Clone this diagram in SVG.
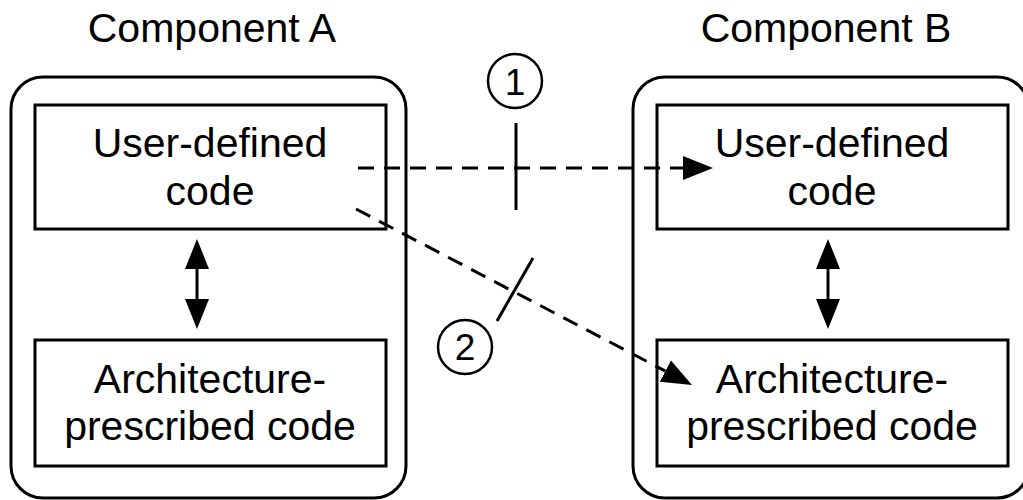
<svg xmlns="http://www.w3.org/2000/svg" width="1023" height="500" viewBox="0 0 1023 500">
  <style>
    .frame { fill: none; stroke: #000; stroke-width: 3; }
    .box { fill: #fff; stroke: #000; stroke-width: 3; }
    .label { font-family: "Liberation Sans", Arial, sans-serif; font-size: 41px; fill: #000; text-anchor: middle; }
    .num { font-family: "Liberation Sans", Arial, sans-serif; font-size: 37px; fill: #000; text-anchor: middle; }
    .dash { fill: none; stroke: #000; stroke-width: 3; stroke-dasharray: 16 10; }
    .solid { fill: none; stroke: #000; stroke-width: 3; }
    .circ { fill: #fff; stroke: #000; stroke-width: 2.5; }
  </style>
  <defs>
    <!-- filled arrowhead; reference point is the base, tip extends 30px beyond the line end -->
    <marker id="head" markerUnits="userSpaceOnUse" markerWidth="31" markerHeight="25" refX="0" refY="12" orient="auto-start-reverse">
      <path d="M0,0 L30,12 L0,24 Z" fill="#000"/>
    </marker>
  </defs>

  <!-- component titles -->
  <text class="label" x="212" y="42">Component A</text>
  <text class="label" x="826" y="42">Component B</text>

  <!-- component A -->
  <g id="componentA">
    <rect class="frame" x="11" y="77" width="395" height="421" rx="32" ry="32"/>
  </g>
  <g id="userCodeA">
    <rect class="box" x="35" y="105" width="351" height="124"/>
    <text class="label" x="210" y="157">User-defined</text>
    <text class="label" x="210" y="205">code</text>
  </g>
  <g id="archCodeA">
    <rect class="box" x="35" y="340" width="351" height="126"/>
    <text class="label" x="210" y="393">Architecture-</text>
    <text class="label" x="210" y="440">prescribed code</text>
  </g>

  <!-- component B -->
  <g id="componentB">
    <rect class="frame" x="633" y="77" width="396" height="421" rx="32" ry="32"/>
  </g>
  <g id="userCodeB">
    <rect class="box" x="657" y="105" width="351" height="124"/>
    <text class="label" x="832" y="157">User-defined</text>
    <text class="label" x="832" y="205">code</text>
  </g>
  <g id="archCodeB">
    <rect class="box" x="657" y="340" width="351" height="126"/>
    <text class="label" x="832" y="393">Architecture-</text>
    <text class="label" x="832" y="440">prescribed code</text>
  </g>

  <!-- connectors -->
  <g id="connectors">
    <line class="solid" x1="197" y1="269" x2="197" y2="299" marker-start="url(#head)" marker-end="url(#head)"/>
    <line class="solid" x1="828" y1="269" x2="828" y2="299" marker-start="url(#head)" marker-end="url(#head)"/>
    <line class="dash" x1="358" y1="168" x2="683" y2="168" marker-end="url(#head)"/>
    <line class="dash" x1="356" y1="209" x2="665.4" y2="371.1" marker-end="url(#head)"/>
    <!-- crossing ticks -->
    <line class="solid" x1="516" y1="123" x2="516" y2="210"/>
    <line class="solid" x1="533" y1="258" x2="497" y2="321"/>
  </g>

  <!-- numbered markers -->
  <g id="marker1">
    <circle class="circ" cx="515" cy="81" r="27"/>
    <text class="num" x="515" y="95">1</text>
  </g>
  <g id="marker2">
    <circle class="circ" cx="465" cy="347" r="27"/>
    <text class="num" x="465" y="360">2</text>
  </g>
</svg>
